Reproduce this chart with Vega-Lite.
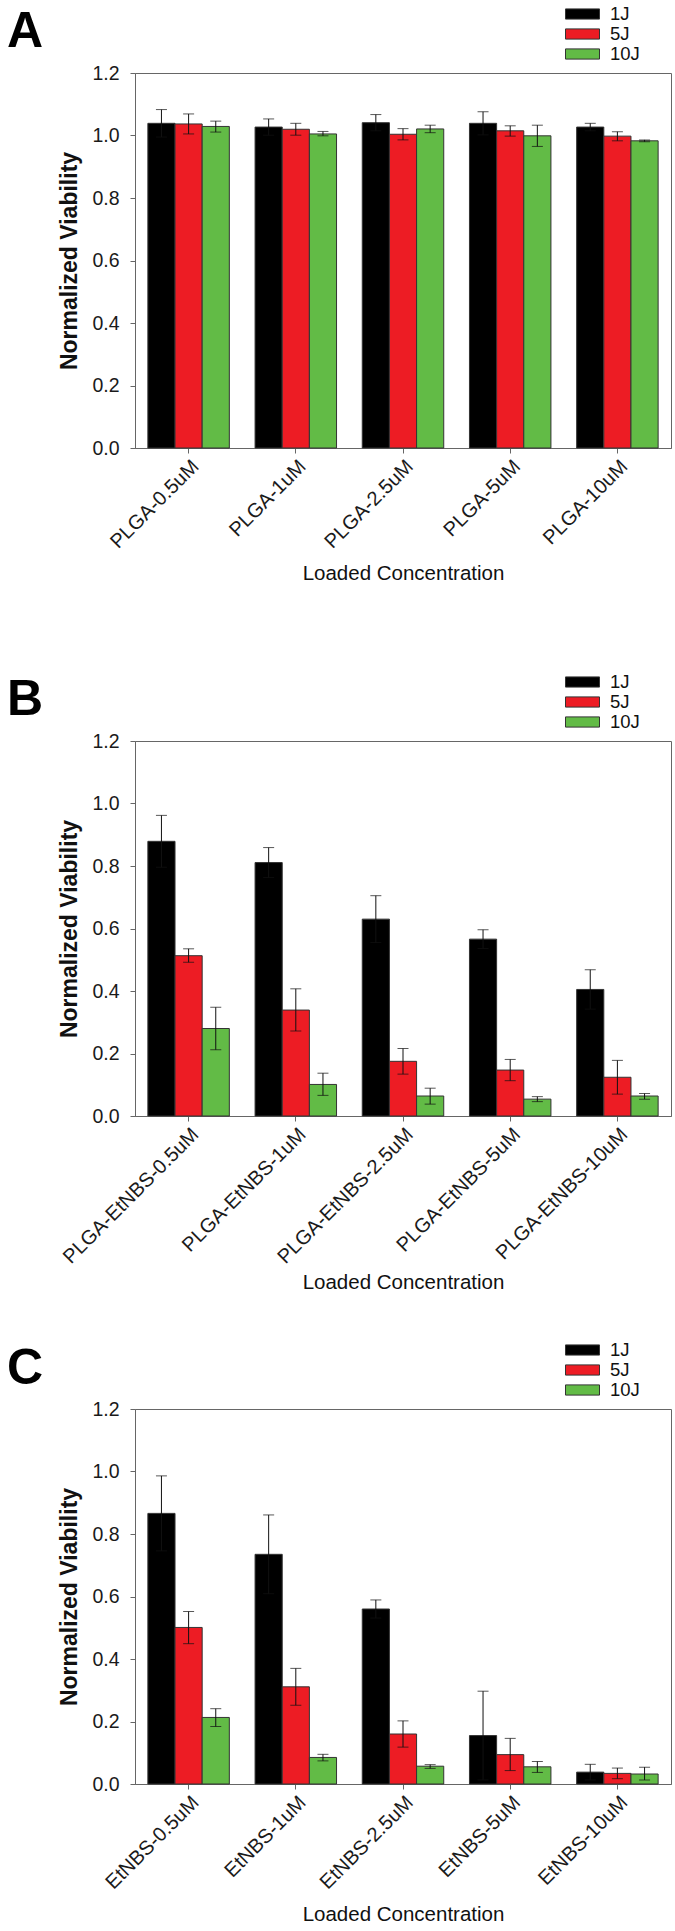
{
  "$schema": "https://vega.github.io/schema/vega-lite/v6.json",
  "autosize": {"type": "pad"},
  "padding": {"left": 6, "top": 3, "right": 4, "bottom": 0},
  "background": "white",
  "spacing": 293,
  "bounds": "flush",
  "resolve": {"scale": {"color": "independent"}, "legend": {"color": "independent"}},
  "config": {
    "font": "Liberation Sans",
    "view": {"stroke": "#666666", "strokeWidth": 1},
    "axis": {
      "labelFont": "Liberation Sans", "titleFont": "Liberation Sans",
      "labelFontSize": 19.5, "labelColor": "#1a1a1a",
      "domainColor": "#666666", "tickColor": "#666666", "tickSize": 5,
      "grid": false, "titleColor": "#111111", "labelLimit": 400
    },
    "axisX": {"labelAngle": -45, "labelFontSize": 20, "titleFontSize": 20.5, "titleFontWeight": "normal", "titlePadding": 12, "labelPadding": 3},
    "axisY": {"labelPadding": 11, "titleFontSize": 23, "titleFontWeight": "bold", "titlePadding": 10},
    "legend": {
      "orient": "none", "legendX": 430, "legendY": -69, "padding": 0,
      "symbolType": "M-1,-0.3L1,-0.3L1,0.3L-1,0.3Z", "symbolSize": 1156,
      "symbolStrokeColor": "#333333", "symbolStrokeWidth": 1, "symbolOpacity": 1,
      "labelFont": "Liberation Sans", "labelFontSize": 18.5, "labelColor": "#111111",
      "labelOffset": 10, "clipHeight": 20, "rowPadding": 0
    },
    "title": {"anchor": "start", "frame": "group", "fontSize": 50, "fontWeight": "bold", "font": "Liberation Sans", "color": "#000000", "dx": -128, "offset": 0}
  },
  "datasets": {
    "A": [
      {"conc": "PLGA-0.5uM", "energy": "1J", "v": 1.039, "lo": 0.995, "hi": 1.083},
      {"conc": "PLGA-0.5uM", "energy": "5J", "v": 1.037, "lo": 1.005, "hi": 1.069},
      {"conc": "PLGA-0.5uM", "energy": "10J", "v": 1.029, "lo": 1.011, "hi": 1.046},
      {"conc": "PLGA-1uM", "energy": "1J", "v": 1.027, "lo": 1.001, "hi": 1.053},
      {"conc": "PLGA-1uM", "energy": "5J", "v": 1.020, "lo": 1.001, "hi": 1.039},
      {"conc": "PLGA-1uM", "energy": "10J", "v": 1.005, "lo": 0.999, "hi": 1.013},
      {"conc": "PLGA-2.5uM", "energy": "1J", "v": 1.041, "lo": 1.015, "hi": 1.067},
      {"conc": "PLGA-2.5uM", "energy": "5J", "v": 1.004, "lo": 0.986, "hi": 1.022},
      {"conc": "PLGA-2.5uM", "energy": "10J", "v": 1.021, "lo": 1.009, "hi": 1.033},
      {"conc": "PLGA-5uM", "energy": "1J", "v": 1.039, "lo": 1.002, "hi": 1.076},
      {"conc": "PLGA-5uM", "energy": "5J", "v": 1.015, "lo": 0.998, "hi": 1.031},
      {"conc": "PLGA-5uM", "energy": "10J", "v": 0.999, "lo": 0.965, "hi": 1.033},
      {"conc": "PLGA-10uM", "energy": "1J", "v": 1.027, "lo": 1.015, "hi": 1.039},
      {"conc": "PLGA-10uM", "energy": "5J", "v": 0.998, "lo": 0.983, "hi": 1.012},
      {"conc": "PLGA-10uM", "energy": "10J", "v": 0.983, "lo": 0.980, "hi": 0.986}
    ],
    "B": [
      {"conc": "PLGA-EtNBS-0.5uM", "energy": "1J", "v": 0.879, "lo": 0.796, "hi": 0.962},
      {"conc": "PLGA-EtNBS-0.5uM", "energy": "5J", "v": 0.513, "lo": 0.492, "hi": 0.535},
      {"conc": "PLGA-EtNBS-0.5uM", "energy": "10J", "v": 0.280, "lo": 0.212, "hi": 0.348},
      {"conc": "PLGA-EtNBS-1uM", "energy": "1J", "v": 0.811, "lo": 0.763, "hi": 0.859},
      {"conc": "PLGA-EtNBS-1uM", "energy": "5J", "v": 0.339, "lo": 0.272, "hi": 0.407},
      {"conc": "PLGA-EtNBS-1uM", "energy": "10J", "v": 0.101, "lo": 0.066, "hi": 0.137},
      {"conc": "PLGA-EtNBS-2.5uM", "energy": "1J", "v": 0.630, "lo": 0.555, "hi": 0.705},
      {"conc": "PLGA-EtNBS-2.5uM", "energy": "5J", "v": 0.175, "lo": 0.134, "hi": 0.216},
      {"conc": "PLGA-EtNBS-2.5uM", "energy": "10J", "v": 0.064, "lo": 0.038, "hi": 0.089},
      {"conc": "PLGA-EtNBS-5uM", "energy": "1J", "v": 0.566, "lo": 0.536, "hi": 0.596},
      {"conc": "PLGA-EtNBS-5uM", "energy": "5J", "v": 0.147, "lo": 0.113, "hi": 0.181},
      {"conc": "PLGA-EtNBS-5uM", "energy": "10J", "v": 0.054, "lo": 0.046, "hi": 0.062},
      {"conc": "PLGA-EtNBS-10uM", "energy": "1J", "v": 0.405, "lo": 0.342, "hi": 0.468},
      {"conc": "PLGA-EtNBS-10uM", "energy": "5J", "v": 0.124, "lo": 0.070, "hi": 0.178},
      {"conc": "PLGA-EtNBS-10uM", "energy": "10J", "v": 0.064, "lo": 0.054, "hi": 0.072}
    ],
    "C": [
      {"conc": "EtNBS-0.5uM", "energy": "1J", "v": 0.866, "lo": 0.746, "hi": 0.986},
      {"conc": "EtNBS-0.5uM", "energy": "5J", "v": 0.501, "lo": 0.449, "hi": 0.552},
      {"conc": "EtNBS-0.5uM", "energy": "10J", "v": 0.213, "lo": 0.184, "hi": 0.241},
      {"conc": "EtNBS-1uM", "energy": "1J", "v": 0.735, "lo": 0.609, "hi": 0.861},
      {"conc": "EtNBS-1uM", "energy": "5J", "v": 0.311, "lo": 0.252, "hi": 0.370},
      {"conc": "EtNBS-1uM", "energy": "10J", "v": 0.085, "lo": 0.074, "hi": 0.095},
      {"conc": "EtNBS-2.5uM", "energy": "1J", "v": 0.560, "lo": 0.531, "hi": 0.589},
      {"conc": "EtNBS-2.5uM", "energy": "5J", "v": 0.160, "lo": 0.118, "hi": 0.202},
      {"conc": "EtNBS-2.5uM", "energy": "10J", "v": 0.057, "lo": 0.050, "hi": 0.062},
      {"conc": "EtNBS-5uM", "energy": "1J", "v": 0.155, "lo": 0.013, "hi": 0.297},
      {"conc": "EtNBS-5uM", "energy": "5J", "v": 0.094, "lo": 0.043, "hi": 0.146},
      {"conc": "EtNBS-5uM", "energy": "10J", "v": 0.055, "lo": 0.037, "hi": 0.072},
      {"conc": "EtNBS-10uM", "energy": "1J", "v": 0.038, "lo": 0.013, "hi": 0.063},
      {"conc": "EtNBS-10uM", "energy": "5J", "v": 0.034, "lo": 0.017, "hi": 0.051},
      {"conc": "EtNBS-10uM", "energy": "10J", "v": 0.032, "lo": 0.013, "hi": 0.054}
    ]
  },
  "vconcat": [
    {
      "title": {"text": "A", "dy": 57},
      "width": 536, "height": 375,
      "data": {"name": "A"},
      "encoding": {
        "x": {"field": "conc", "type": "nominal", "sort": null, "scale": {"paddingInner": 0.24, "paddingOuter": 0.12}, "axis": {"title": "Loaded Concentration"}},
        "xOffset": {"field": "energy", "type": "nominal", "sort": ["1J", "5J", "10J"], "scale": {"paddingInner": 0, "paddingOuter": 0}}
      },
      "layer": [
        {
          "mark": {"type": "bar", "stroke": "#333333", "strokeWidth": 1},
          "encoding": {
            "y": {"field": "v", "type": "quantitative", "scale": {"domain": [0, 1.2], "nice": false}, "axis": {"title": "Normalized Viability", "values": [0, 0.2, 0.4, 0.6, 0.8, 1.0, 1.2], "format": ".1f"}},
            "color": {"field": "energy", "type": "nominal", "scale": {"domain": ["1J", "5J", "10J"], "range": ["#000000", "#ED1C24", "#62BB46"]}, "legend": {"title": null}}
          }
        },
        {"mark": {"type": "rule", "color": "#111111", "strokeWidth": 1}, "encoding": {"y": {"field": "lo", "type": "quantitative", "axis": {"title": "Normalized Viability", "values": [0, 0.2, 0.4, 0.6, 0.8, 1.0, 1.2], "format": ".1f"}}, "y2": {"field": "hi"}}},
        {"mark": {"type": "tick", "color": "#111111", "thickness": 1, "size": 11, "orient": "horizontal"}, "encoding": {"y": {"field": "lo", "type": "quantitative", "axis": {"title": "Normalized Viability", "values": [0, 0.2, 0.4, 0.6, 0.8, 1.0, 1.2], "format": ".1f"}}}},
        {"mark": {"type": "tick", "color": "#111111", "thickness": 1, "size": 11, "orient": "horizontal"}, "encoding": {"y": {"field": "hi", "type": "quantitative", "axis": {"title": "Normalized Viability", "values": [0, 0.2, 0.4, 0.6, 0.8, 1.0, 1.2], "format": ".1f"}}}}
      ]
    },
    {
      "title": {"text": "B", "dy": 57},
      "width": 536, "height": 375,
      "data": {"name": "B"},
      "encoding": {
        "x": {"field": "conc", "type": "nominal", "sort": null, "scale": {"paddingInner": 0.24, "paddingOuter": 0.12}, "axis": {"title": "Loaded Concentration", "titlePadding": 5}},
        "xOffset": {"field": "energy", "type": "nominal", "sort": ["1J", "5J", "10J"], "scale": {"paddingInner": 0, "paddingOuter": 0}}
      },
      "layer": [
        {
          "mark": {"type": "bar", "stroke": "#333333", "strokeWidth": 1},
          "encoding": {
            "y": {"field": "v", "type": "quantitative", "scale": {"domain": [0, 1.2], "nice": false}, "axis": {"title": "Normalized Viability", "values": [0, 0.2, 0.4, 0.6, 0.8, 1.0, 1.2], "format": ".1f"}},
            "color": {"field": "energy", "type": "nominal", "scale": {"domain": ["1J", "5J", "10J"], "range": ["#000000", "#ED1C24", "#62BB46"]}, "legend": {"title": null}}
          }
        },
        {"mark": {"type": "rule", "color": "#111111", "strokeWidth": 1}, "encoding": {"y": {"field": "lo", "type": "quantitative", "axis": {"title": "Normalized Viability", "values": [0, 0.2, 0.4, 0.6, 0.8, 1.0, 1.2], "format": ".1f"}}, "y2": {"field": "hi"}}},
        {"mark": {"type": "tick", "color": "#111111", "thickness": 1, "size": 11, "orient": "horizontal"}, "encoding": {"y": {"field": "lo", "type": "quantitative", "axis": {"title": "Normalized Viability", "values": [0, 0.2, 0.4, 0.6, 0.8, 1.0, 1.2], "format": ".1f"}}}},
        {"mark": {"type": "tick", "color": "#111111", "thickness": 1, "size": 11, "orient": "horizontal"}, "encoding": {"y": {"field": "hi", "type": "quantitative", "axis": {"title": "Normalized Viability", "values": [0, 0.2, 0.4, 0.6, 0.8, 1.0, 1.2], "format": ".1f"}}}}
      ]
    },
    {
      "title": {"text": "C", "dy": 58},
      "width": 536, "height": 375,
      "data": {"name": "C"},
      "encoding": {
        "x": {"field": "conc", "type": "nominal", "sort": null, "scale": {"paddingInner": 0.24, "paddingOuter": 0.12}, "axis": {"title": "Loaded Concentration"}},
        "xOffset": {"field": "energy", "type": "nominal", "sort": ["1J", "5J", "10J"], "scale": {"paddingInner": 0, "paddingOuter": 0}}
      },
      "layer": [
        {
          "mark": {"type": "bar", "stroke": "#333333", "strokeWidth": 1},
          "encoding": {
            "y": {"field": "v", "type": "quantitative", "scale": {"domain": [0, 1.2], "nice": false}, "axis": {"title": "Normalized Viability", "values": [0, 0.2, 0.4, 0.6, 0.8, 1.0, 1.2], "format": ".1f"}},
            "color": {"field": "energy", "type": "nominal", "scale": {"domain": ["1J", "5J", "10J"], "range": ["#000000", "#ED1C24", "#62BB46"]}, "legend": {"title": null}}
          }
        },
        {"mark": {"type": "rule", "color": "#111111", "strokeWidth": 1}, "encoding": {"y": {"field": "lo", "type": "quantitative", "axis": {"title": "Normalized Viability", "values": [0, 0.2, 0.4, 0.6, 0.8, 1.0, 1.2], "format": ".1f"}}, "y2": {"field": "hi"}}},
        {"mark": {"type": "tick", "color": "#111111", "thickness": 1, "size": 11, "orient": "horizontal"}, "encoding": {"y": {"field": "lo", "type": "quantitative", "axis": {"title": "Normalized Viability", "values": [0, 0.2, 0.4, 0.6, 0.8, 1.0, 1.2], "format": ".1f"}}}},
        {"mark": {"type": "tick", "color": "#111111", "thickness": 1, "size": 11, "orient": "horizontal"}, "encoding": {"y": {"field": "hi", "type": "quantitative", "axis": {"title": "Normalized Viability", "values": [0, 0.2, 0.4, 0.6, 0.8, 1.0, 1.2], "format": ".1f"}}}}
      ]
    }
  ]
}
